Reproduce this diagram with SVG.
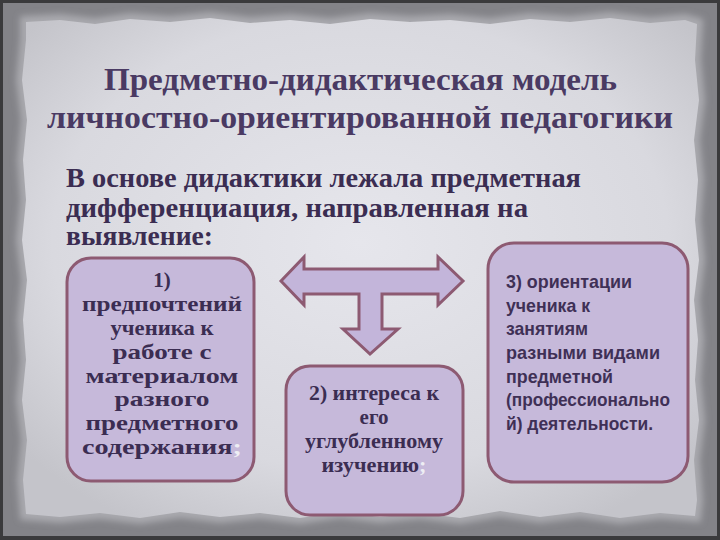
<svg xmlns="http://www.w3.org/2000/svg" width="720" height="540" viewBox="0 0 720 540">
<defs>
<radialGradient id="paperGrad" cx="50%" cy="45%" r="65%">
<stop offset="0" stop-color="#e6e6ec"/>
<stop offset="0.7" stop-color="#d9d9df"/>
<stop offset="1" stop-color="#c4c4ca"/>
</radialGradient>
<filter id="soft" x="-5%" y="-5%" width="110%" height="110%">
<feGaussianBlur stdDeviation="3"/>
</filter>
<style>
.title{font-family:"Liberation Serif","DejaVu Serif",serif;font-weight:bold;font-size:32px;fill:#4a3a63}
.body{font-family:"Liberation Serif","DejaVu Serif",serif;font-weight:bold;font-size:28px;fill:#3b2d52}
.box{fill:#c6b9da;stroke:#8d5a72;stroke-width:3}
.st{font-family:"Liberation Serif","DejaVu Serif",serif;font-weight:bold;font-size:21px;fill:#3b2d52;text-anchor:middle}
.ss{font-family:"Liberation Sans","DejaVu Sans",sans-serif;font-weight:bold;font-size:19px;fill:#3f3056}
.pale{fill:#eeeef4}
.arrow{fill:#c3b5da;stroke:#8d5a72;stroke-width:3;stroke-linejoin:miter}
</style>
</defs>
<g id="background">
<rect x="0" y="0" width="720" height="540" fill="#3a3a3c"/>
<rect x="3" y="3" width="714" height="533" fill="#838388"/>
<path id="paperEdge" d="M24,20 L60,18 L95,22 L130,17 L170,20 L210,16 L250,21 L290,18 L330,22 L370,17 L410,20 L450,18 L490,22 L530,17 L570,20 L610,16 L650,21 L685,18 L699,22 L697,60 L701,100 L696,140 L700,180 L697,220 L701,260 L696,300 L700,340 L697,380 L701,420 L696,460 L699,500 L697,518 L660,515 L620,520 L580,514 L540,519 L500,513 L460,520 L420,515 L380,519 L340,514 L300,520 L260,515 L220,519 L180,514 L140,520 L100,515 L60,519 L24,516 L21,480 L25,440 L20,400 L24,360 L21,320 L25,280 L20,240 L24,200 L21,160 L25,120 L20,80 L24,40 Z" fill="#a9a9ae" stroke="#a9a9ae" stroke-width="8" filter="url(#soft)"/>
<path d="M26,22 L60,20 L95,24 L130,19 L170,22 L210,18 L250,23 L290,20 L330,24 L370,19 L410,22 L450,20 L490,24 L530,19 L570,22 L610,18 L650,23 L685,20 L697,24 L695,60 L699,100 L694,140 L698,180 L695,220 L699,260 L694,300 L698,340 L695,380 L699,420 L694,460 L697,500 L695,516 L660,513 L620,518 L580,512 L540,517 L500,511 L460,518 L420,513 L380,517 L340,512 L300,518 L260,513 L220,517 L180,512 L140,518 L100,513 L60,517 L26,514 L23,480 L27,440 L22,400 L26,360 L23,320 L27,280 L22,240 L26,200 L23,160 L27,120 L22,80 L26,40 Z" fill="url(#paperGrad)"/>
</g>
<g id="title">
<text class="title" x="104" y="90" textLength="513" lengthAdjust="spacingAndGlyphs">Предметно-дидактическая модель</text>
<text class="title" x="47" y="128" textLength="626" lengthAdjust="spacingAndGlyphs">личностно-ориентированной педагогики</text>
</g>
<g id="intro">
<text class="body" x="66" y="187" textLength="515" lengthAdjust="spacingAndGlyphs">В основе дидактики лежала предметная</text>
<text class="body" x="66" y="217" textLength="462" lengthAdjust="spacingAndGlyphs">дифференциация, направленная на</text>
<text class="body" x="66" y="245" textLength="147" lengthAdjust="spacingAndGlyphs">выявление:</text>
</g>
<g id="connectors">
<polygon class="arrow" points="281,281 304,257 304,269 438,269 438,257 463,281 438,305 438,294 382,294 382,329 398,329 370,354 343,329 359,329 359,294 304,294 304,305"/>
</g>
<g id="box1">
<rect class="box" x="67" y="258" width="187" height="223" rx="24"/>
<text class="st" x="162" y="287">1)</text>
<text class="st" x="162" y="311" textLength="160" lengthAdjust="spacingAndGlyphs">предпочтений</text>
<text class="st" x="162" y="335" textLength="103" lengthAdjust="spacingAndGlyphs">ученика к</text>
<text class="st" x="162" y="359" textLength="99" lengthAdjust="spacingAndGlyphs">работе с</text>
<text class="st" x="162" y="383" textLength="153" lengthAdjust="spacingAndGlyphs">материалом</text>
<text class="st" x="162" y="406" textLength="95" lengthAdjust="spacingAndGlyphs">разного</text>
<text class="st" x="162" y="430" textLength="153" lengthAdjust="spacingAndGlyphs">предметного</text>
<text class="st" x="162" y="454" textLength="160" lengthAdjust="spacingAndGlyphs">содержания<tspan class="pale">;</tspan></text>
</g>
<g id="box2">
<rect class="box" x="286" y="366" width="177" height="149" rx="24"/>
<text class="st" x="374" y="400" textLength="130" lengthAdjust="spacingAndGlyphs">2) интереса к</text>
<text class="st" x="374" y="424">его</text>
<text class="st" x="374" y="448" textLength="138" lengthAdjust="spacingAndGlyphs">углубленному</text>
<text class="st" x="374" y="472" textLength="105" lengthAdjust="spacingAndGlyphs">изучению<tspan class="pale">;</tspan></text>
</g>
<g id="box3">
<rect class="box" x="488" y="243" width="200" height="239" rx="26"/>
<text class="ss" x="506" y="288" textLength="126" lengthAdjust="spacingAndGlyphs">3) ориентации</text>
<text class="ss" x="506" y="312" textLength="84" lengthAdjust="spacingAndGlyphs">ученика к</text>
<text class="ss" x="506" y="335" textLength="82" lengthAdjust="spacingAndGlyphs">занятиям</text>
<text class="ss" x="506" y="359" textLength="154" lengthAdjust="spacingAndGlyphs">разными видами</text>
<text class="ss" x="506" y="383" textLength="107" lengthAdjust="spacingAndGlyphs">предметной</text>
<text class="ss" x="506" y="406" textLength="164" lengthAdjust="spacingAndGlyphs">(профессионально</text>
<text class="ss" x="506" y="430" textLength="147" lengthAdjust="spacingAndGlyphs">й) деятельности.</text>
</g>
</svg>
